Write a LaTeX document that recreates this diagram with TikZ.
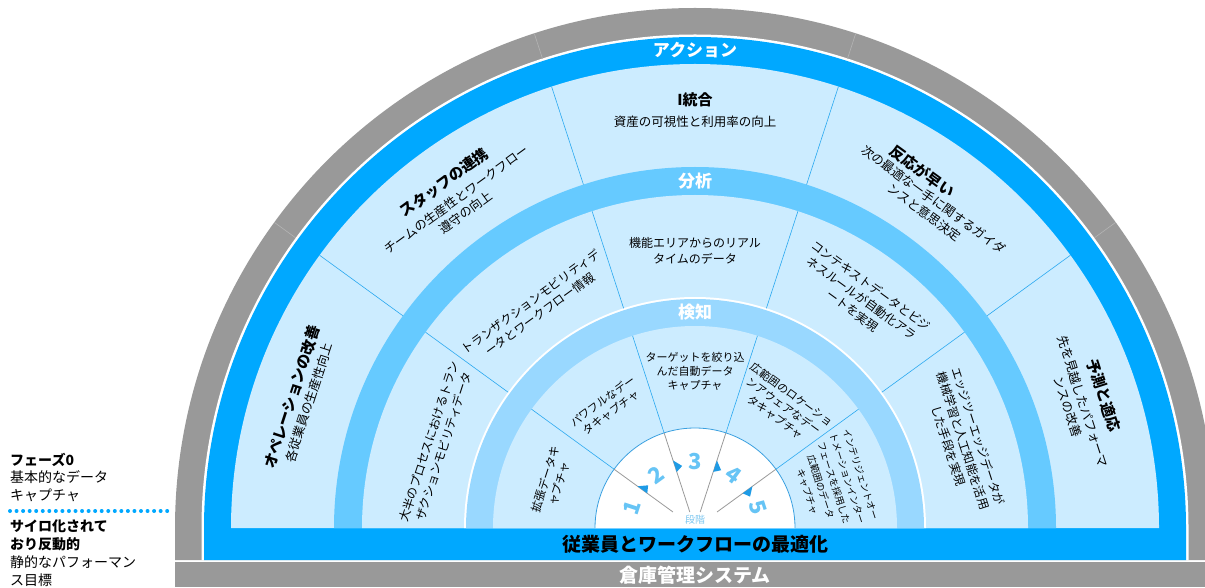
\documentclass[tikz,border=0pt]{standalone}
\usepackage{fontspec}
\setmainfont{Noto Sans CJK JP}
\definecolor{ringgray}{HTML}{999999}
\definecolor{ringdiv}{HTML}{B4B4B4}
\definecolor{actblue}{HTML}{00A8FF}
\definecolor{anablue}{HTML}{66CAFF}
\definecolor{detblue}{HTML}{99D8FF}
\definecolor{lightfill}{HTML}{CCECFF}
\definecolor{divline}{HTML}{2AA8F0}
\definecolor{numblue}{HTML}{66C4F5}
\definecolor{markblue}{HTML}{1E9BE6}
\definecolor{circline}{HTML}{3AA0E0}
\definecolor{innerline}{HTML}{9A9A9A}
\definecolor{stagetxt}{HTML}{80C8F0}
\begin{document}
\begin{tikzpicture}[x=1pt,y=1pt,
  ttl/.style={inner sep=0pt, font=\bfseries\fontsize{15}{18}\selectfont},
  actsub/.style={inner sep=0pt, align=center, font=\fontsize{12.5}{16}\selectfont},
  anasub/.style={inner sep=0pt, align=center, font=\fontsize{12}{15.5}\selectfont},
  detsub/.style={inner sep=0pt, align=center, font=\fontsize{11}{14}\selectfont},
  ringlabel/.style={inner sep=0pt, text=white, font=\bfseries\fontsize{17}{20}\selectfont},
  numlabel/.style={inner sep=0pt, text=numblue, font=\bfseries\fontsize{22}{24}\selectfont},
  legend/.style={inner sep=0pt, anchor=west, font=\fontsize{14}{17}\selectfont},
  divider/.style={draw=divline, line width=0.6pt},
]
\useasboundingbox (0,0) rectangle (1205,587);
% outer gray ring with legs
\fill[ringgray] (175,27) -- (175,59) arc[start angle=180,end angle=0,radius=520] -- (1215,27) -- cycle;
\fill[white] (201.5,27) -- (201.5,59) arc[start angle=180,end angle=0,radius=493.5] -- (1188.5,27) -- cycle;
\fill[actblue] (204,27) -- (204,59) arc[start angle=180,end angle=0,radius=491] -- (1186,27) -- cycle;
% bottom gray bar
\fill[ringgray] (175,0) rectangle (1215,25);

\begin{scope}[shift={(695,59)}]
  \fill[lightfill] (-464,0) arc[start angle=180,end angle=0,radius=464] -- cycle;
  \fill[anablue] (-361,0) arc[start angle=180,end angle=0,radius=361] -- cycle;
  \fill[lightfill] (-333,0) arc[start angle=180,end angle=0,radius=333] -- cycle;
  \fill[white] (-231,0) arc[start angle=180,end angle=0,radius=231] -- cycle;
  \fill[detblue] (-229,0) arc[start angle=180,end angle=0,radius=229] -- cycle;
  \fill[lightfill] (-202,0) arc[start angle=180,end angle=0,radius=202] -- cycle;
  \fill[white] (-100,0) arc[start angle=180,end angle=0,radius=100] -- cycle;
  \draw[circline, line width=0.8pt] (-100,0) arc[start angle=180,end angle=0,radius=100];

  \foreach \a in {36,72,108,144} {
    \draw[divider] (\a:361) -- (\a:464);
    \draw[divider] (\a:231) -- (\a:333);
    \draw[divider] (\a:100) -- (\a:202);
    \draw[ringdiv, line width=0.6pt] (\a:493.5) -- (\a:520);
    \draw[innerline, line width=0.8pt] (\a:100) -- (\a:{16/sin(\a)});
    \begin{scope}[rotate=\a]
      \fill[markblue] (59,0) -- (71,0) -- (63,-7) -- cycle;
    \end{scope}
  }

  % ring labels
  \node[ringlabel] (lblact) at (90:477.5) {アクション};
  \node[ringlabel] (lblana) at (90:347) {分析};
  \node[ringlabel] (lbldet) at (90:215.5) {検知};

  % action sectors
  \node[ttl, rotate=72] (a1t) at (162:424) {オペレーションの改善};
  \node[actsub, rotate=72] (a1s) at (162:406) {各従業員の生産性向上};
  \node[ttl, rotate=36] (a2t) at (126:427) {スタッフの連携};
  \node[actsub, rotate=36] (a2s) at (126:398) {チームの生産性とワークフロー\\遵守の向上};
  \node[ttl] (a3t) at (90:428) {I統合};
  \node[actsub] (a3s) at (90:406) {資産の可視性と利用率の向上};
  \node[ttl, rotate=-36] (a4t) at (57.5:423) {反応が早い};
  \node[actsub, rotate=-36] (a4s) at (54:398) {次の最適な一手に関するガイダ\\ンスと意思決定};
  \node[ttl, rotate=-72] (a5t) at (18:430) {予測と適応};
  \node[actsub, rotate=-72] (a5s) at (18:400) {先を見越したパフォーマ\\ンスの改善};

  % analysis sectors
  \node[anasub, rotate=72] (b1) at (162:272) {大半のプロセスにおけるトラン\\ザクションモビリティデータ};
  \node[anasub, rotate=36] (b2) at (126:272) {トランザクションモビリティデ\\ータとワークフロー情報};
  \node[anasub] (b3) at (90:277) {機能エリアからのリアル\\タイムのデータ};
  \node[anasub, rotate=-36] (b4) at (54:284) {コンテキストデータとビジ\\ネスルールが自動化アラ\\ートを実現};
  \node[anasub, rotate=-72] (b5) at (18:282) {エッジツーエッジデータが\\機械学習と人工知能を活用\\した手段を実現};

  % detection sectors
  \node[detsub, rotate=72, font=\fontsize{11.5}{14}\selectfont] (c1) at (162:150) {拡張データキ\\ャプチャ};
  \node[detsub, rotate=36] (c2) at (126:150) {パワフルなデー\\タキャプチャ};
  \node[detsub] (c3) at (90:157) {ターゲットを絞り込\\んだ自動データ\\キャプチャ};
  \node[detsub, rotate=-36] (c4) at (54:151) {広範囲のロケーショ\\ンアウェアなデー\\タキャプチャ};
  \node[detsub, rotate=-72, font=\fontsize{9.5}{14}\selectfont] (c5) at (18:146) {インテリジェントオー\\トメーションインター\\フェースを採用した\\広範囲のデータ\\キャプチャ};

  % stage numbers
  \node[numlabel, rotate=72] (n1) at (162:66) {1};
  \node[numlabel, rotate=36] (n2) at (126:66) {2};
  \node[numlabel] (n3) at (90:66) {3};
  \node[numlabel, rotate=-36] (n4) at (54:66) {4};
  \node[numlabel, rotate=-72] (n5) at (18:66) {5};
  \node[fill=white, inner xsep=8pt, inner ysep=2pt, text=stagetxt, font=\fontsize{10}{12}\selectfont] (stage) at (0,8) {段階};
\end{scope}

% bottom bar labels
\node[inner sep=0pt, font=\bfseries\fontsize{19}{22}\selectfont] (opt) at (695,43) {従業員とワークフローの最適化};
\node[inner sep=0pt, text=white, font=\bfseries\fontsize{19}{22}\selectfont] (wms) at (695,12) {倉庫管理システム};

% legend
\node[legend, font=\bfseries\fontsize{14}{17}\selectfont] (l1) at (10,127) {フェーズ0};
\node[legend] (l2) at (10,110) {基本的なデータ};
\node[legend] (l3) at (10,92) {キャプチャ};
\draw[actblue, line width=4pt, line cap=round, dash pattern=on 0pt off 6.55pt] (10,76) -- (168,76);
\node[legend, font=\bfseries\fontsize{14}{17}\selectfont] (l4) at (10,61) {サイロ化されて};
\node[legend, font=\bfseries\fontsize{14}{17}\selectfont] (l5) at (10,43) {おり反動的};
\node[legend] (l6) at (10,25) {静的なパフォーマン};
\node[legend] (l7) at (10,7) {ス目標};
\end{tikzpicture}
\end{document}
